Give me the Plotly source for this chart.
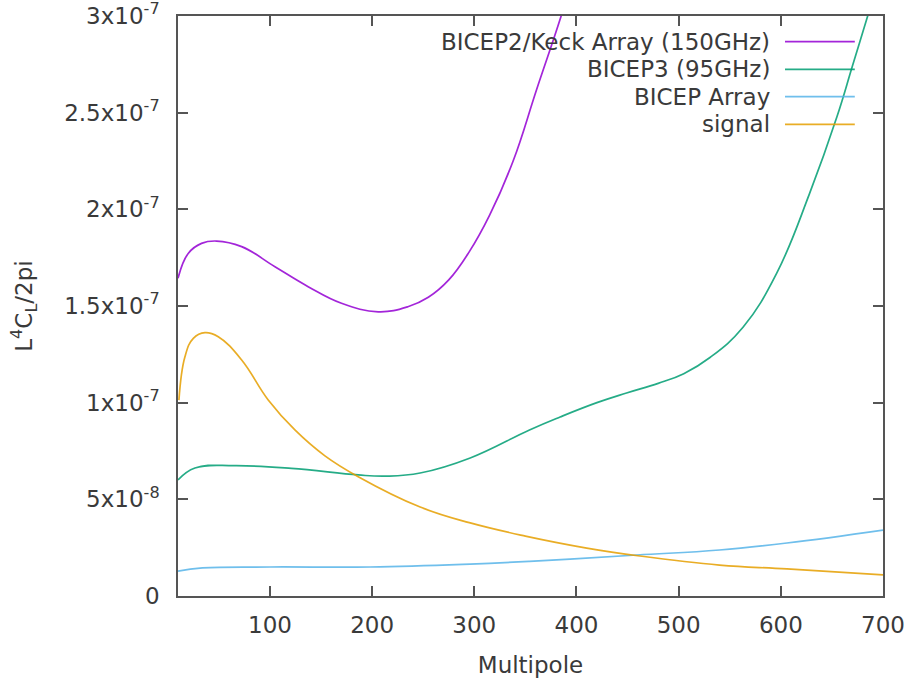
import plotly.graph_objects as go

# ---- data ----
bk_x = [10, 20, 33, 47.8, 72.3, 104.9, 137.4, 170, 206, 235, 255, 275, 295, 315, 338, 361, 385, 405]
bk_y = [1.643e-7, 1.772e-7, 1.824e-7, 1.836e-7, 1.807e-7, 1.703e-7, 1.600e-7, 1.514e-7, 1.470e-7,
        1.496e-7, 1.545e-7, 1.635e-7, 1.78e-7, 1.97e-7, 2.25e-7, 2.62e-7, 3.0e-7, 3.35e-7]

b3_x = [10, 26.6, 65.7, 121, 186.4, 214, 247, 296, 354, 384, 420, 449, 480, 505, 531, 563, 596, 628, 655, 670, 685, 700]
b3_y = [0.60e-7, 0.662e-7, 0.674e-7, 0.660e-7, 0.626e-7, 0.620e-7, 0.636e-7, 0.714e-7, 0.859e-7, 0.926e-7,
        1.0e-7, 1.05e-7, 1.10e-7, 1.15e-7, 1.235e-7, 1.39e-7, 1.67e-7, 2.08e-7, 2.48e-7, 2.74e-7, 3.0e-7, 3.26e-7]

ba_x = [10, 34, 100, 198, 296, 354, 459, 540, 606, 700]
ba_y = [1.29e-8, 1.45e-8, 1.50e-8, 1.50e-8, 1.65e-8, 1.79e-8, 2.12e-8, 2.38e-8, 2.74e-8, 3.41e-8]

sig_x = [10.9, 16.8, 25, 36.4, 49.4, 72.3, 98.3, 124.4, 153.8, 186.4, 247, 296, 350, 410, 462, 540, 606, 700]
sig_y = [1.013e-7, 1.238e-7, 1.333e-7, 1.362e-7, 1.341e-7, 1.221e-7, 1.014e-7, 0.859e-7, 0.725e-7, 0.617e-7,
         0.460e-7, 0.378e-7, 0.310e-7, 0.248e-7, 0.207e-7, 0.160e-7, 0.140e-7, 0.109e-7]

series_names = ["BICEP2/Keck Array (150GHz)", "BICEP3 (95GHz)", "BICEP Array", "signal"]
series_colors = ["#9400d3", "#009e73", "#56b4e9", "#e69f00"]

x_ticks = [100, 200, 300, 400, 500, 600, 700]
y_ticks = [0, 5e-8, 1e-7, 1.5e-7, 2e-7, 2.5e-7, 3e-7]
y_tick_text = ["0", "5x10<sup>-8</sup>", "1x10<sup>-7</sup>", "1.5x10<sup>-7</sup>",
               "2x10<sup>-7</sup>", "2.5x10<sup>-7</sup>", "3x10<sup>-7</sup>"]

FONT = "DejaVu Sans"
FS = 23
TXT = "#3a3a3a"
AX = "#555555"

fig = go.Figure()
for xs, ys, name, col in zip([bk_x, b3_x, ba_x, sig_x], [bk_y, b3_y, ba_y, sig_y], series_names, series_colors):
    fig.add_trace(go.Scatter(x=xs, y=ys, mode="lines", name=name, opacity=0.85,
                             line=dict(color=col, width=1.7, shape="spline", smoothing=1.2),
                             showlegend=False))

# gnuplot-style key: right-aligned text with line sample to its right
row_y = [0.9557, 0.9081, 0.8609, 0.8133]
for name, col, yp in zip(series_names, series_colors, row_y):
    fig.add_annotation(x=0.8426, y=yp, xref="paper", yref="paper", text=name, showarrow=False,
                       xanchor="right", yanchor="middle", font=dict(family=FONT, size=FS, color=TXT))
    fig.add_shape(type="line", xref="paper", yref="paper", x0=0.861, x1=0.960, y0=yp, y1=yp,
                  line=dict(color=col, width=1.7), opacity=0.85)

fig.update_layout(
    width=912, height=681,
    margin=dict(l=178, r=29, t=16, b=85),
    paper_bgcolor="white", plot_bgcolor="white",
    font=dict(family=FONT, size=FS, color=TXT),
)
fig.update_xaxes(range=[10, 700], tickvals=x_ticks, ticks="inside", ticklen=10, tickwidth=1.5,
                 tickcolor=AX, showline=True, linecolor=AX, linewidth=1.5, mirror="ticks",
                 showgrid=False, zeroline=False, ticklabelstandoff=8, automargin=False,
                 ticklabeloverflow="allow",
                 title=dict(text="Multipole", font=dict(family=FONT, size=FS, color=TXT), standoff=20))
fig.update_yaxes(range=[0, 3e-7], tickvals=y_ticks, ticktext=y_tick_text, ticks="inside", ticklen=10,
                 tickwidth=1.5, tickcolor=AX, showline=True, linecolor=AX, linewidth=1.5, mirror="ticks",
                 showgrid=False, zeroline=False, ticklabelstandoff=12, automargin=False,
                 ticklabeloverflow="allow",
                 title=dict(text="L<sup>4</sup>C<sub>L</sub>/2pi", font=dict(family=FONT, size=FS, color=TXT),
                            standoff=25))

fig.write_html("out.html", config={"displayModeBar": False},
               post_script="document.body.style.margin='0';document.body.style.overflow='hidden';")
